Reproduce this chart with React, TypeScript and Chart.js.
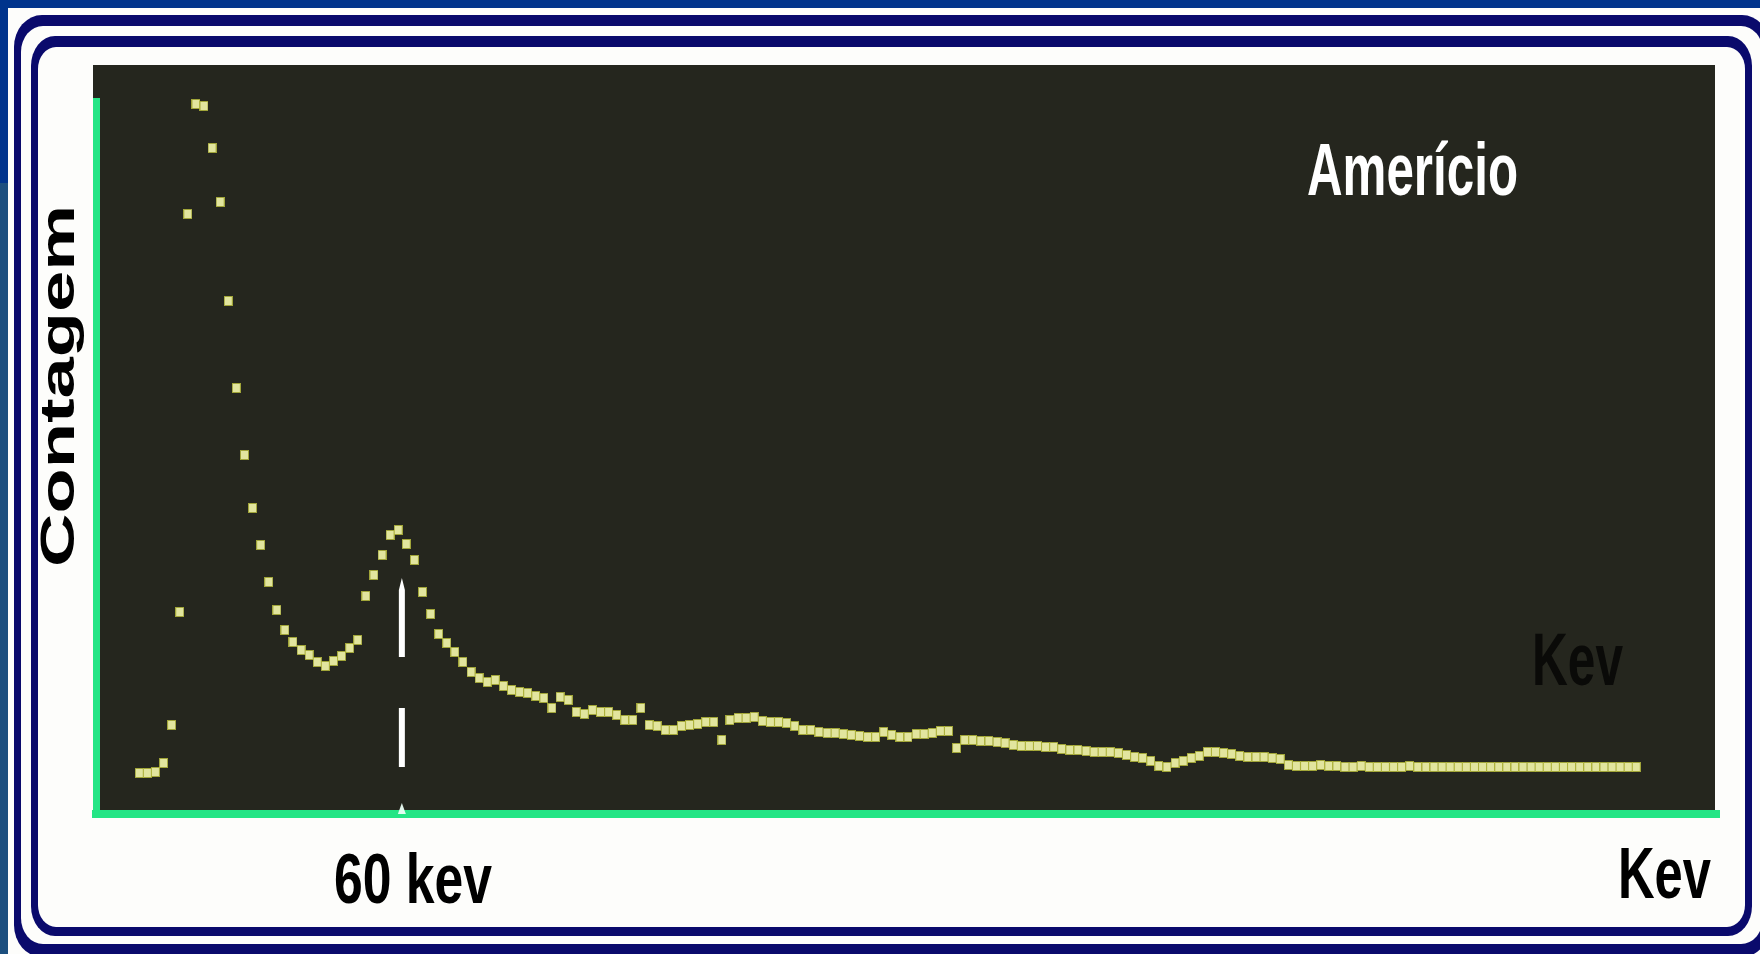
import React, { useEffect, useRef } from "react";
import { Chart, registerables } from "chart.js";

Chart.register(...registerables);

// ---- Data (counts per MCA channel) ----
const KEV_START = 8.4; // energy of the first channel shown
const KEV_PER_CHANNEL = 1.59; // channel calibration
const X_MIN_KEV = 0;
const X_MAX_KEV = 319;
const Y_MAX_COUNTS = 719;

const countsRise = [
  41, 41, 42, 51, 89, 202, 600, 710, 708, 666, 612, 513, 426, 359, 306, 269, 232, 204,
  184, 172, 164, 159, 152, 148, 153, 158, 166, 174,
];
const countsPeak60 = [
  218, 239, 259, 279, 284, 270, 254, 222, 200, 180, 171, 162, 152, 142, 136, 132, 134,
  128, 124, 122, 121, 118, 116, 106, 117, 114, 102, 100, 104, 102, 102, 99, 94, 94, 106,
];
const countsTailNear = [
  89, 88, 84, 84, 88, 89, 90, 92, 92, 74, 94, 96, 96, 97, 93, 92, 92, 91, 88, 84, 84, 82,
  81, 81, 80, 79, 78, 77, 77, 82, 79, 77, 77, 80, 80, 81, 83, 83, 66,
];
const countsTailMid = [
  74, 74, 73, 73, 72, 71, 69, 68, 68, 68, 67, 67, 65, 64, 64, 63, 62, 62, 62, 61, 59, 57,
  56, 53, 48, 47, 51, 53, 56, 58, 62, 62, 61, 60, 58, 57, 57, 57, 56, 55,
];
const countsTailFar = [
  49, 48, 48, 48, 49, 48, 48, 47, 47, 48, 47, 47, 47, 47, 47, 48, 47, 47, 47, 47, 47, 47,
  47, 47, 47, 47, 47, 47, 47, 47, 47, 47, 47, 47, 47, 47, 47, 47, 47, 47, 47, 47, 47, 47,
];

const ARROW_KEV = 60;
const arrowDashes: [number, number][] = [
  [236, 157],
  [106, 47],
];
const arrowFoot: [number, number] = [11, 0];

const LABEL_Y = "Contagem";
const LABEL_ELEMENT = "Amerício";
const LABEL_PEAK = "60 kev";
const LABEL_X = "Kev";
const LABEL_X_INNER = "Kev";

// ---- Styles ----
const W = 1760;
const H = 954;
const FONT = "'Liberation Sans', Arial, Helvetica, sans-serif";
const NAVY = "#0a0a6c";
const WHITE = "#fdfdfb";
const BLUE = "#00348c";
const BLUE_LEFT = "#1c4f7e";
const PLOT_BG = "#25261e";
const GREEN = "#24e585";

function rrPath(
  ctx: CanvasRenderingContext2D,
  x0: number,
  y0: number,
  x1: number,
  y1: number,
  rx: number,
  ry: number
) {
  ctx.beginPath();
  ctx.moveTo(x0 + rx, y0);
  ctx.lineTo(x1 - rx, y0);
  ctx.ellipse(x1 - rx, y0 + ry, rx, ry, 0, -Math.PI / 2, 0);
  ctx.lineTo(x1, y1 - ry);
  ctx.ellipse(x1 - rx, y1 - ry, rx, ry, 0, 0, Math.PI / 2);
  ctx.lineTo(x0 + rx, y1);
  ctx.ellipse(x0 + rx, y1 - ry, rx, ry, 0, Math.PI / 2, Math.PI);
  ctx.lineTo(x0, y0 + ry);
  ctx.ellipse(x0 + rx, y0 + ry, rx, ry, 0, Math.PI, Math.PI * 1.5);
  ctx.closePath();
}

function makeDot(): HTMLCanvasElement {
  const c = document.createElement("canvas");
  c.width = 9;
  c.height = 10;
  const g = c.getContext("2d")!;
  g.fillStyle = "rgba(175,180,60,0.9)";
  g.fillRect(0, 0, 9, 10);
  g.fillStyle = "#e2e59e";
  g.fillRect(1, 1, 7, 8);
  return c;
}

function drawFitText(
  ctx: CanvasRenderingContext2D,
  text: string,
  x: number,
  baseline: number,
  size: number,
  color: string,
  targetWidth: number
) {
  ctx.save();
  ctx.font = `bold ${size}px ${FONT}`;
  const w = ctx.measureText(text).width || 1;
  ctx.translate(x, baseline);
  ctx.scale(targetWidth / w, 1);
  ctx.fillStyle = color;
  ctx.textAlign = "left";
  ctx.textBaseline = "alphabetic";
  ctx.fillText(text, 0, 0);
  ctx.restore();
}

const backdropPlugin = {
  id: "backdrop",
  beforeDraw(chart: any) {
    const ctx: CanvasRenderingContext2D = chart.ctx;
    const { right, bottom } = chart.chartArea;
    ctx.save();
    ctx.fillStyle = BLUE;
    ctx.fillRect(0, 0, W, H);
    ctx.fillStyle = BLUE_LEFT;
    ctx.fillRect(0, 183, 8, H - 183);
    ctx.fillStyle = WHITE;
    ctx.fillRect(8, 8, W - 8, H - 8);
    // outer frame
    ctx.fillStyle = NAVY;
    rrPath(ctx, 14, 15, 1770, 957, 28, 32);
    ctx.fill();
    ctx.fillStyle = WHITE;
    rrPath(ctx, 21, 26, 1763, 944, 22, 26);
    ctx.fill();
    // inner frame
    ctx.fillStyle = NAVY;
    rrPath(ctx, 31, 36, 1752, 936, 24, 30);
    ctx.fill();
    ctx.fillStyle = WHITE;
    rrPath(ctx, 38, 47, 1745, 927, 18, 22);
    ctx.fill();
    // plot background
    ctx.fillStyle = PLOT_BG;
    ctx.fillRect(93, 65, right - 5 - 93, bottom - 65);
    ctx.restore();
  },
};

const axesPlugin = {
  id: "greenAxes",
  beforeDatasetsDraw(chart: any) {
    const ctx: CanvasRenderingContext2D = chart.ctx;
    const { left, right, top, bottom } = chart.chartArea;
    ctx.save();
    ctx.fillStyle = GREEN;
    ctx.fillRect(left - 3.5, top + 3, 7, bottom - top + 1);
    ctx.fillRect(left - 4.5, bottom - 4, right - left + 4.5, 8);
    ctx.restore();
  },
};

const annotationPlugin = {
  id: "annotations",
  afterDatasetsDraw(chart: any) {
    const ctx: CanvasRenderingContext2D = chart.ctx;
    const xs = chart.scales.x;
    const ys = chart.scales.y;
    const x = xs.getPixelForValue(ARROW_KEV);
    ctx.save();
    ctx.fillStyle = "#ffffff";
    arrowDashes.forEach(([a, b], i) => {
      const y0 = ys.getPixelForValue(a);
      const y1 = ys.getPixelForValue(b);
      ctx.beginPath();
      if (i === 0) {
        ctx.moveTo(x, y0);
        ctx.lineTo(x + 3, y0 + 12);
        ctx.lineTo(x + 3, y1);
        ctx.lineTo(x - 3, y1);
        ctx.lineTo(x - 3, y0 + 12);
      } else {
        ctx.rect(x - 3, y0, 6, y1 - y0);
      }
      ctx.closePath();
      ctx.fill();
    });
    const f0 = ys.getPixelForValue(arrowFoot[0]);
    const f1 = ys.getPixelForValue(arrowFoot[1]);
    ctx.fillStyle = "rgba(235,255,245,0.95)";
    ctx.beginPath();
    ctx.moveTo(x, f0);
    ctx.lineTo(x + 4, f1);
    ctx.lineTo(x - 4, f1);
    ctx.closePath();
    ctx.fill();
    ctx.restore();
  },
  afterDraw(chart: any) {
    const ctx: CanvasRenderingContext2D = chart.ctx;
    // rotated y label
    ctx.save();
    ctx.font = `bold 74px ${FONT}`;
    const w = ctx.measureText(LABEL_Y).width || 1;
    ctx.translate(74, 567);
    ctx.scale(0.66, 362 / w);
    ctx.rotate(-Math.PI / 2);
    ctx.fillStyle = "#000000";
    ctx.textAlign = "left";
    ctx.textBaseline = "alphabetic";
    ctx.fillText(LABEL_Y, 0, 0);
    ctx.restore();

    drawFitText(ctx, LABEL_ELEMENT, 1307, 195, 74, "#ffffff", 211);
    drawFitText(ctx, LABEL_X_INNER, 1532, 685, 74, "#0a0a08", 91);
    drawFitText(ctx, LABEL_PEAK, 334, 903, 70, "#000000", 158);
    drawFitText(ctx, LABEL_X, 1618, 898, 72, "#000000", 93);
  },
};

export default function App() {
  const ref = useRef<HTMLCanvasElement | null>(null);

  useEffect(() => {
    const canvas = ref.current;
    if (!canvas) return;
    const allCounts = [
      ...countsRise,
      ...countsPeak60,
      ...countsTailNear,
      ...countsTailMid,
      ...countsTailFar,
    ];
    const points = allCounts.map((c, i) => ({ x: KEV_START + i * KEV_PER_CHANNEL, y: c }));
    const dot = makeDot();
    const chart = new Chart(canvas, {
      type: "scatter",
      data: {
        datasets: [
          {
            data: points,
            pointStyle: dot as any,
            pointRadius: 4,
            pointHoverRadius: 4,
            showLine: false,
            clip: false as any,
          },
        ],
      },
      options: {
        animation: false,
        responsive: false,
        events: [],
        layout: { padding: { left: 96.5, top: 95, right: 40, bottom: 140 } },
        plugins: {
          legend: { display: false },
          tooltip: { enabled: false },
          title: { display: false },
        },
        scales: {
          x: { type: "linear", min: X_MIN_KEV, max: X_MAX_KEV, display: false },
          y: { type: "linear", min: 0, max: Y_MAX_COUNTS, display: false },
        },
      },
      plugins: [backdropPlugin, axesPlugin, annotationPlugin],
    });
    return () => chart.destroy();
  }, []);

  return (
    <div style={{ position: "fixed", left: 0, top: 0, width: W, height: H }}>
      <canvas ref={ref} width={W} height={H} style={{ display: "block", width: W, height: H }} />
    </div>
  );
}
